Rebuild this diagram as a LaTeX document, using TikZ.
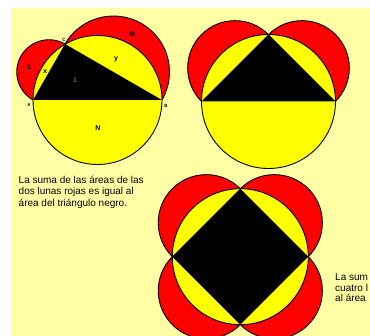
\documentclass[tikz,border=0pt]{standalone}
\usepackage{fontspec}
\setmainfont{Liberation Sans}
\usetikzlibrary{calc, through}
\definecolor{papel}{HTML}{FFFFA6}
\definecolor{lunared}{HTML}{FF0000}
\definecolor{discoyellow}{HTML}{FFFF00}

\begin{document}
\begin{tikzpicture}[
  x=1pt, y=-1pt,
  luna/.style={draw=black, line width=0.9pt, fill=lunared},
  disco/.style={draw=black, line width=0.9pt, fill=discoyellow},
  figura/.style={fill=black},
  rotulo/.style={font=\fontsize{7}{7}\selectfont\bfseries, inner sep=0pt},
  vertice/.style={font=\fontsize{4.5}{4.5}\selectfont\bfseries, inner sep=0pt},
  nota/.style={align=left, anchor=north west, inner sep=0pt}
]
  \useasboundingbox (0,0) rectangle (370,336);
  \fill[white] (0,0) rectangle (370,336);
  \fill[papel] (11,8) rectangle (370,336);

  % first figure: right triangle in semicircle
  \coordinate (A) at (33,100);
  \coordinate (B) at (162,100);
  \coordinate (C) at (65,44);
  \node[luna, circle through=(C)] (lunaL) at ($(A)!0.5!(C)$) {};
  \node[luna, circle through=(B)] (lunaM) at ($(C)!0.5!(B)$) {};
  \node[disco, circle through=(B)] (discoN) at ($(A)!0.5!(B)$) {};
  \fill[figura] (A) -- (B) -- (C) -- cycle;

  \node[vertice] (labA) at (29,105) {A};
  \node[vertice] (labB) at (166,106) {B};
  \node[vertice] (labC) at (64,40) {C};
  \node[rotulo] (labL) at (30,67) {L};
  \node[rotulo] (labx) at (45,72) {x};
  \node[rotulo] (laby) at (116,59) {y};
  \node[rotulo] (labM) at (132,34) {M};
  \node[rotulo] (labN) at (98,128) {N};
  \node[rotulo, text=black!60] (lab1) at (75,80) {1};

  % second figure: isosceles triangle
  \coordinate (A2) at (201.5,101.5);
  \coordinate (B2) at (335.5,101.5);
  \coordinate (C2) at (268.5,34.5);
  \node[luna, circle through=(C2)] (lunaI) at ($(A2)!0.5!(C2)$) {};
  \node[luna, circle through=(B2)] (lunaD) at ($(C2)!0.5!(B2)$) {};
  \node[disco, circle through=(B2)] (disco2) at ($(A2)!0.5!(B2)$) {};
  \fill[figura] (A2) -- (B2) -- (C2) -- cycle;

  % third figure: square in circle
  \coordinate (O3) at (240.3,256.7);
  \coordinate (T3) at (240.3,188.7);
  \coordinate (R3) at (308.3,256.7);
  \coordinate (D3) at (240.3,324.7);
  \coordinate (L3) at (172.3,256.7);
  \foreach \p/\q in {T3/R3, R3/D3, D3/L3, L3/T3}
    \node[luna, circle through=(\q)] at ($(\p)!0.5!(\q)$) {};
  \node[disco, circle through=(T3)] (disco3) at (O3) {};
  \fill[figura] (T3) -- (R3) -- (D3) -- (L3) -- cycle;

  % texts
  \node[nota, font=\fontsize{10}{11.7}\selectfont] (nota1) at (18.5,175.5)
    {La suma de las áreas de las\\dos lunas rojas es igual al\\área del triángulo negro.};
  \node[nota, font=\fontsize{10}{10.5}\selectfont] (nota2) at (335,273.5)
    {La sum\\cuatro l\\al área};
\end{tikzpicture}
\end{document}
